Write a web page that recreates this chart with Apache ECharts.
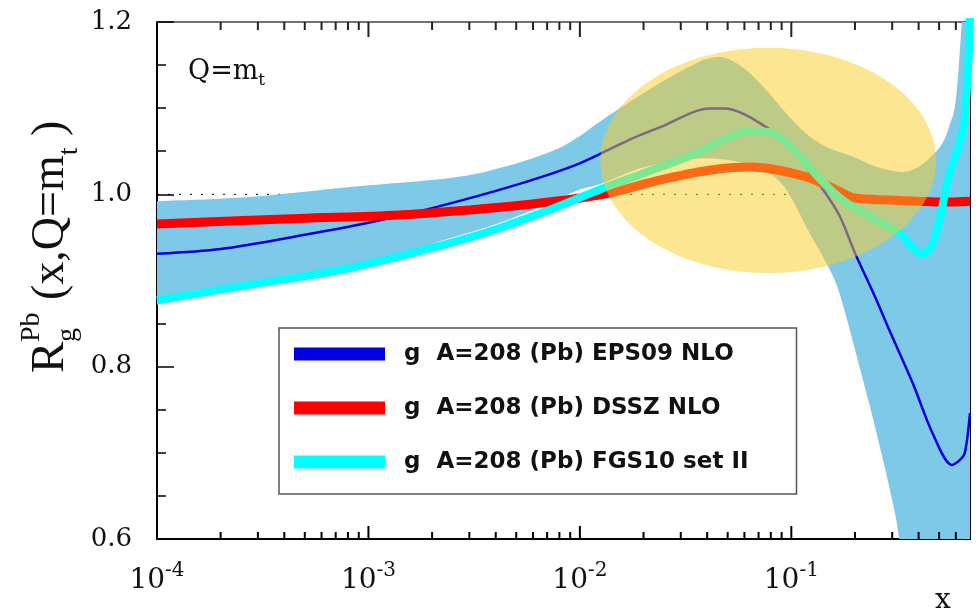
<!DOCTYPE html>
<html><head><meta charset="utf-8">
<script src="https://cdn.jsdelivr.net/npm/echarts@6/dist/echarts.min.js"></script>
<style>html,body{margin:0;padding:0;background:#fff}#c{width:980px;height:609px}</style>
</head><body><div id="c"></div>
<script>
// ---------- axis ranges / ticks ----------
const xMin = 1e-4, xMax = 0.7;
const yMin = 0.6, yMax = 1.2, yStep = 0.2;
const xMajorExps = [-4, -3, -2, -1];
const xMajorTicks = [1e-3, 1e-2, 1e-1];
const xMinorTicks = [2e-4,3e-4,4e-4,5e-4,6e-4,7e-4,8e-4,9e-4,
  2e-3,3e-3,4e-3,5e-3,6e-3,7e-3,8e-3,9e-3,
  0.02,0.03,0.04,0.05,0.06,0.07,0.08,0.09,
  0.2,0.3,0.4,0.5,0.6];
const refLineY = 1.0;

// ---------- series names ----------
const nameEPS = 'g  A=208 (Pb) EPS09 NLO';
const nameDSSZ = 'g  A=208 (Pb) DSSZ NLO';
const nameFGS = 'g  A=208 (Pb) FGS10 set II';

// ---------- EPS09 central ----------
const eps09X = [1e-4, 2e-4, 5e-4, 1e-3, 2e-3, 5e-3, 0.01, 0.017, 0.024, 0.041, 0.049, 0.061, 0.076, 0.095, 0.117, 0.145, 0.17, 0.2, 0.25, 0.29, 0.375, 0.465, 0.574, 0.626, 0.662, 0.7];
const eps09Y = [0.931, 0.9365, 0.953, 0.967, 0.984, 1.011, 1.036, 1.063, 1.078, 1.0995, 1.0995, 1.092, 1.078, 1.061, 1.032, 1.0015, 0.974, 0.932, 0.880, 0.843, 0.781, 0.723, 0.686, 0.6915, 0.70, 0.746];

// ---------- EPS09 uncertainty band ----------
const bandUpX = [1e-4, 2.75e-4, 8.2e-4, 2.43e-3, 4.18e-3, 7.2e-3, 0.0096, 0.0138, 0.0238, 0.0341, 0.0409, 0.0494, 0.0613, 0.0762, 0.0946, 0.117, 0.1466, 0.1945, 0.252, 0.335, 0.40, 0.464, 0.52, 0.56, 0.60, 0.64, 0.7];
const bandUpY = [0.992, 0.997, 1.0085, 1.019, 1.0305, 1.049, 1.065, 1.092, 1.129, 1.15, 1.158, 1.158, 1.144, 1.121, 1.094, 1.071, 1.055, 1.044, 1.032, 1.026, 1.032, 1.045, 1.06, 1.08, 1.11, 1.2, 1.35];
const bandLoX = [1e-4, 2.75e-4, 8.2e-4, 2.43e-3, 4.18e-3, 7.2e-3, 0.0096, 0.0128, 0.0198, 0.0341, 0.0494, 0.0708, 0.088, 0.1014, 0.122, 0.1466, 0.169, 0.21, 0.253, 0.30, 0.324, 0.4, 0.7];
const bandLoY = [0.872, 0.893, 0.915, 0.949, 0.967, 0.99, 1.004, 1.013, 1.031, 1.041, 1.040, 1.03, 1.015, 0.993, 0.955, 0.92, 0.885, 0.80, 0.723, 0.645, 0.60, 0.45, 0.2];

// ---------- DSSZ ----------
const dsszX = [1e-4, 4.7e-4, 1.4e-3, 4.2e-3, 8e-3, 0.0138, 0.0238, 0.041, 0.0635, 0.087, 0.122, 0.164, 0.2, 0.295, 0.40, 0.52, 0.7];
const dsszY = [0.9655, 0.972, 0.976, 0.985, 0.9925, 1.0015, 1.0165, 1.028, 1.0317, 1.028, 1.019, 1.005, 0.9957, 0.9934, 0.992, 0.991, 0.992];

// ---------- FGS10 ----------
const fgsX = [1e-4, 2.75e-4, 8.2e-4, 2.43e-3, 4.18e-3, 7.2e-3, 0.0127, 0.0198, 0.0341, 0.0494, 0.0634, 0.0789, 0.1014, 0.136, 0.1746, 0.253, 0.324, 0.374, 0.417, 0.464, 0.51, 0.56, 0.626, 0.66, 0.69, 0.7];
const fgsY = [0.877, 0.895, 0.9145, 0.9435, 0.961, 0.982, 1.0065, 1.024, 1.046, 1.065, 1.0734, 1.072, 1.053, 1.0185, 0.9934, 0.970, 0.955, 0.939, 0.931, 0.942, 0.978, 1.025, 1.06, 1.09, 1.16, 1.21];

// ---------- highlighted ellipse (x-left, x-right, y-top, y-bottom) ----------
const ellipseBox = [0.0125, 0.484, 1.170, 0.9086];

const zip = (xs, ys) => xs.map((x, i) => [x, ys[i]]);

function spline(pts, n) {
  const out = [];
  for (let i = 0; i < pts.length - 1; i++) {
    const p0 = pts[Math.max(i - 1, 0)], p1 = pts[i], p2 = pts[i + 1], p3 = pts[Math.min(i + 2, pts.length - 1)];
    for (let k = 0; k < n; k++) {
      const t = k / n, t2 = t * t, t3 = t2 * t;
      out.push([0, 1].map(j => 0.5 * ((2 * p1[j]) + (-p0[j] + p2[j]) * t + (2 * p0[j] - 5 * p1[j] + 4 * p2[j] - p3[j]) * t2 + (-p0[j] + 3 * p1[j] - 3 * p2[j] + p3[j]) * t3)));
    }
  }
  out.push(pts[pts.length - 1]);
  return out;
}

const chart = echarts.init(document.getElementById('c'), null, {renderer: 'canvas'});

const serif = 'Liberation Serif';
const dvSerif = 'DejaVu Serif';

const textGraphics = [
  {id: 'qlabel', type: 'text', x: 188, y: 72, z: 50,
    style: {text: '{a|Q=m}{t|t}', verticalAlign: 'middle', align: 'left',
      rich: {a: {fontFamily: dvSerif, fontSize: 27, lineHeight: 34, fill: '#111'},
             t: {fontFamily: dvSerif, fontSize: 17, lineHeight: 17, verticalAlign: 'bottom', fill: '#111'}}}},
  {id: 'xname', type: 'text', x: 943, y: 615, z: 50,
    style: {text: 'x', fontFamily: dvSerif, fontSize: 28, fill: '#111', align: 'center', verticalAlign: 'bottom'}},
  {id: 'yname', type: 'group', x: 51, y: 373, rotation: Math.PI / 2, z: 50, children: [
    {type: 'text', x: 0, y: 0, style: {text: 'R', fontFamily: serif, fontSize: 47, fill: '#111', align: 'left', verticalAlign: 'middle'}},
    {type: 'text', x: 31, y: 17, style: {text: 'g', fontFamily: serif, fontSize: 28, fill: '#111', align: 'left', verticalAlign: 'middle'}},
    {type: 'text', x: 31, y: -19, style: {text: 'Pb', fontFamily: serif, fontSize: 28, fill: '#111', align: 'left', verticalAlign: 'middle'}},
    {type: 'text', x: 73, y: 0, style: {text: '{a|(x,Q=m}{t|t}{a| )}', align: 'left', verticalAlign: 'middle',
      rich: {a: {fontFamily: serif, fontSize: 46, lineHeight: 66, fill: '#111'},
             t: {fontFamily: serif, fontSize: 28, lineHeight: 28, verticalAlign: 'bottom', fill: '#111'}}}}
  ]}
];

chart.setOption({
  animation: false,
  backgroundColor: '#fff',
  grid: {left: 157, right: 10, top: 22, bottom: 70, containLabel: false},
  legend: {
    data: [{name: nameEPS, icon: 'rect'}, {name: nameDSSZ, icon: 'rect'}, {name: nameFGS, icon: 'rect'}],
    orient: 'vertical', left: 279, top: 328,
    itemWidth: 91, itemHeight: 13, itemGap: 30,
    padding: [14, 48, 20, 15],
    backgroundColor: '#fff', borderColor: '#555', borderWidth: 1.5, borderRadius: 0,
    selectedMode: false,
    textStyle: {fontFamily: 'DejaVu Sans', fontWeight: 'bold', fontSize: 23, color: '#111', lineHeight: 24, padding: [0, 0, 0, 14]}
  },
  xAxis: [{
    type: 'log', logBase: 10, min: xMin, max: xMax, position: 'bottom',
    axisLine: {show: true, onZero: false, lineStyle: {color: '#000', width: 2}},
    axisTick: {show: false},
    splitLine: {show: false},
    axisLabel: {
      margin: 22, color: '#111',
      formatter: function (v) {
        const e = Math.log10(v), r = Math.round(e);
        if (Math.abs(e - r) > 1e-6 || xMajorExps.indexOf(r) < 0) return '';
        return '{b|10}{s|' + r + '}';
      },
      rich: {
        b: {fontFamily: dvSerif, fontSize: 28, lineHeight: 40, color: '#111'},
        s: {fontFamily: dvSerif, fontSize: 20, lineHeight: 16, verticalAlign: 'top', color: '#111'}
      }
    }
  }, {
    type: 'log', logBase: 10, min: xMin, max: xMax, position: 'top',
    axisLine: {show: true, onZero: false, lineStyle: {color: '#444', width: 1.5}},
    axisTick: {show: false},
    splitLine: {show: false}, axisLabel: {show: false}
  }],
  yAxis: [{
    type: 'value', min: yMin, max: yMax, interval: yStep, position: 'left',
    axisLine: {show: true, onZero: false, lineStyle: {color: '#000', width: 2}},
    axisTick: {show: true, inside: true, length: 17, lineStyle: {color: '#000', width: 1.5}},
    minorTick: {show: true, splitNumber: 4, length: 9, lineStyle: {color: '#000', width: 1.5}},
    splitLine: {show: false},
    axisLabel: {fontFamily: dvSerif, fontSize: 26, color: '#111', margin: 25, formatter: v => v.toFixed(1)}
  }, {
    type: 'value', min: yMin, max: yMax, interval: yStep, position: 'right',
    axisLine: {show: true, onZero: false, lineStyle: {color: '#000', width: 2}},
    axisTick: {show: true, inside: true, length: 7, lineStyle: {color: '#000', width: 1.2}},
    minorTick: {show: true, splitNumber: 4, length: 5, lineStyle: {color: '#000', width: 1.2}},
    splitLine: {show: false}, axisLabel: {show: false}
  }],
  graphic: textGraphics,
  series: [
    {
      type: 'line', name: 'ref', z: 1, silent: true, showSymbol: false,
      data: [[xMin, refLineY], [xMax, refLineY]],
      lineStyle: {color: '#000', width: 1, type: [2, 9]}
    },
    {
      type: 'custom', name: 'band', z: 2, silent: true,
      data: [[bandUpX[0], bandUpY[0]]],
      encode: {x: 0, y: 1},
      renderItem: function (params, api) {
        const cs = params.coordSys;
        const up = spline(zip(bandUpX, bandUpY).map(p => api.coord(p)), 8);
        const lo = spline(zip(bandLoX, bandLoY).map(p => api.coord(p)), 8).reverse();
        const pts = up.concat(lo).map(p => [
          Math.min(Math.max(p[0], cs.x), cs.x + cs.width),
          Math.min(Math.max(p[1], cs.y), cs.y + cs.height)]);
        return {type: 'polygon', shape: {points: pts}, style: {fill: '#7ec8e8', stroke: null}};
      }
    },
    {
      type: 'line', name: nameEPS, z: 3, showSymbol: false, smooth: 0.3,
      data: zip(eps09X, eps09Y),
      itemStyle: {color: '#0000e0'},
      lineStyle: {color: '#0000d8', width: 2.5}
    },
    {
      type: 'line', name: nameDSSZ, z: 4, showSymbol: false, smooth: 0.35,
      data: zip(dsszX, dsszY),
      itemStyle: {color: '#ff0000'},
      lineStyle: {color: '#ff0000', width: 9}
    },
    {
      type: 'line', name: nameFGS, z: 5, showSymbol: false, smooth: 0.35,
      data: zip(fgsX, fgsY),
      itemStyle: {color: '#00ffff'},
      lineStyle: {color: '#00ffff', width: 8}
    },
    {
      type: 'custom', name: 'ellipse', z: 6, silent: true,
      data: [ellipseBox],
      encode: {x: [0, 1], y: [2, 3]},
      renderItem: function (params, api) {
        const l = api.coord([api.value(0), api.value(2)]);
        const r = api.coord([api.value(1), api.value(3)]);
        const cx = (l[0] + r[0]) / 2, cy = (l[1] + r[1]) / 2;
        const rx = Math.abs(r[0] - l[0]) / 2, ry = Math.abs(r[1] - l[1]) / 2;
        const pts = [];
        for (let i = 0; i < 180; i++) {
          const a = i / 180 * Math.PI * 2;
          pts.push([cx + rx * Math.cos(a), cy + ry * Math.sin(a)]);
        }
        return {type: 'polygon', shape: {points: pts}, style: {fill: 'rgba(249,206,40,0.51)', stroke: null}};
      }
    }
  ]
});

// x-axis tick marks on the bottom and top frame, placed with the axis scale
const yTop = chart.convertToPixel({yAxisIndex: 0}, yMax);
const yBottom = chart.convertToPixel({yAxisIndex: 0}, yMin);
const tickGraphics = [];
function addTicks(values, lenBottom, lenTop) {
  values.forEach(v => {
    const x = chart.convertToPixel({xAxisIndex: 0}, v);
    tickGraphics.push({type: 'line', z: 40, silent: true,
      shape: {x1: x, y1: yBottom, x2: x, y2: yBottom - lenBottom}, style: {stroke: '#000', lineWidth: 2}});
    tickGraphics.push({type: 'line', z: 40, silent: true,
      shape: {x1: x, y1: yTop, x2: x, y2: yTop + lenTop}, style: {stroke: '#222', lineWidth: 2}});
  });
}
addTicks(xMinorTicks, 7, 8);
addTicks(xMajorTicks, 13, 15);
chart.setOption({graphic: textGraphics.concat(tickGraphics)});
</script>
</body></html>
